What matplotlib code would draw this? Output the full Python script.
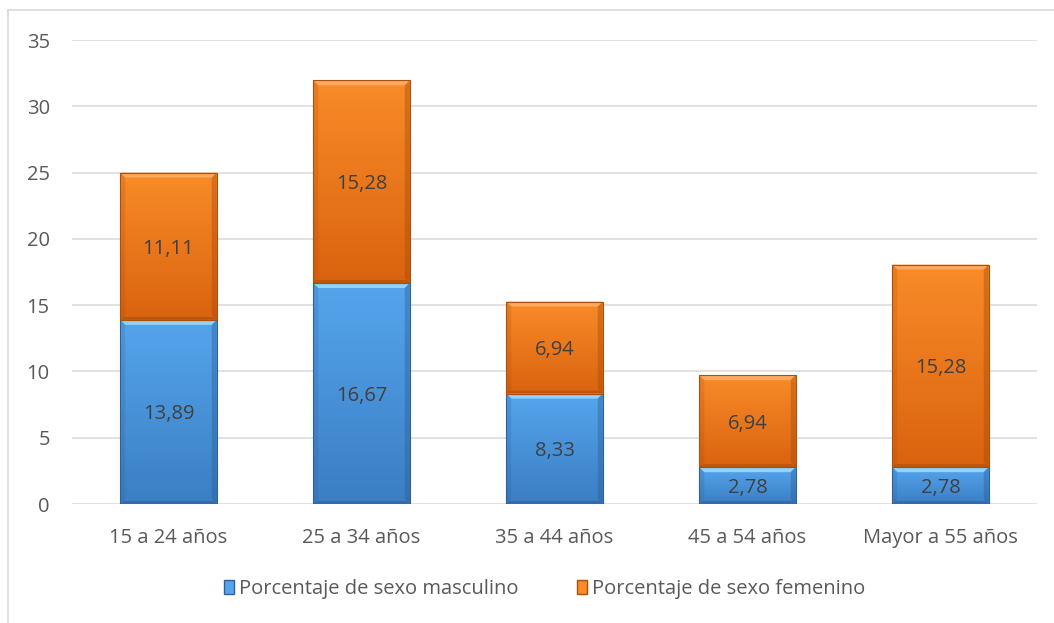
import numpy as np
import matplotlib
matplotlib.use("Agg")
import matplotlib.pyplot as plt
from matplotlib.patches import Rectangle, Polygon, Patch
from matplotlib.lines import Line2D
from matplotlib.colors import LinearSegmentedColormap

plt.rcParams['font.family'] = ['Open Sans', 'DejaVu Sans']

categories = ["15 a 24 años", "25 a 34 años", "35 a 44 años", "45 a 54 años", "Mayor a 55 años"]
masculino = [13.89, 16.67, 8.33, 2.78, 2.78]
femenino = [11.11, 15.28, 6.94, 6.94, 15.28]
series_names = ["Porcentaje de sexo masculino", "Porcentaje de sexo femenino"]
y_ticks = [0, 5, 10, 15, 20, 25, 30, 35]

FS = 14.5

styles = {
    "blue": dict(top="#55A5EC", bottom="#3B7EC4", light="#92D3FA", dark="#2C5C92", edge="#2F6196"),
    "orange": dict(top="#F98B28", bottom="#DA630F", light="#FCA85E", dark="#A34A0A", edge="#A9500F"),
}

fig = plt.figure(figsize=(10.54, 6.23), dpi=100)
ax = fig.add_axes([72 / 1054, 1 - 504 / 623, 965 / 1054, 464 / 623])
ax.set_xlim(-0.5, len(categories) - 0.5)
ax.set_ylim(0, 35)

for s in ax.spines.values():
    s.set_visible(False)
ax.set_yticks(y_ticks)
ax.set_yticklabels([str(t) for t in y_ticks])
ax.yaxis.grid(True, color="#D9D9D9", linewidth=1.1)
ax.set_axisbelow(True)
ax.tick_params(axis="both", length=0, labelsize=FS, colors="#595959")
ax.tick_params(axis="y", pad=16)
ax.tick_params(axis="x", pad=17)
ax.set_xticks(range(len(categories)))
ax.set_xticklabels(categories)

# pixel -> data conversions for the bevel size
fig.canvas.draw()
px_x = (ax.get_xlim()[1] - ax.get_xlim()[0]) / ax.bbox.width
px_y = (ax.get_ylim()[1] - ax.get_ylim()[0]) / ax.bbox.height
bev = 5
bx, by = bev * px_x, bev * px_y

width = 0.5


def bevel_bar(x, y0, h, st):
    x0 = x - width / 2
    x1 = x + width / 2
    y1 = y0 + h
    rect = Rectangle((x0, y0), width, h, facecolor="none", edgecolor="none", zorder=3)
    ax.add_patch(rect)
    cmap = LinearSegmentedColormap.from_list("g", [st["bottom"], st["top"]])
    grad = np.linspace(0, 1, 64).reshape(-1, 1)
    im = ax.imshow(grad, cmap=cmap, origin="lower", aspect="auto",
                   extent=(x0, x1, y0, y1), zorder=3, interpolation="bilinear")
    im.set_clip_path(rect)
    # top highlight
    ax.add_patch(Polygon([(x0, y1), (x1, y1), (x1 - bx, y1 - by), (x0 + bx, y1 - by)],
                         closed=True, facecolor=st["light"], edgecolor="none", zorder=4))
    # side shading
    ax.add_patch(Polygon([(x1, y1), (x1, y0), (x1 - bx, y0 + by), (x1 - bx, y1 - by)],
                         closed=True, facecolor=st["dark"], alpha=0.4, edgecolor="none", zorder=4))
    ax.add_patch(Polygon([(x0, y1), (x0, y0), (x0 + bx, y0 + by), (x0 + bx, y1 - by)],
                         closed=True, facecolor=st["dark"], alpha=0.2, edgecolor="none", zorder=4))
    # bottom shading
    ax.add_patch(Polygon([(x0, y0), (x1, y0), (x1 - bx * 0.6, y0 + by * 0.6), (x0 + bx * 0.6, y0 + by * 0.6)],
                         closed=True, facecolor=st["dark"], alpha=0.5, edgecolor="none", zorder=4))
    ax.add_patch(Rectangle((x0, y0), width, h, facecolor="none", edgecolor=st["edge"],
                           linewidth=0.8, zorder=5))


for i, (m, f) in enumerate(zip(masculino, femenino)):
    bevel_bar(i, 0, m, styles["blue"])
    bevel_bar(i, m, f, styles["orange"])
    ax.text(i, m / 2, f"{m:.2f}".replace(".", ","), ha="center", va="center_baseline",
            fontsize=FS, color="#404040", zorder=6)
    ax.text(i, m + f / 2, f"{f:.2f}".replace(".", ","), ha="center", va="center_baseline",
            fontsize=FS, color="#404040", zorder=6)

# legend
handles = [Patch(facecolor=styles["blue"]["top"], edgecolor=styles["blue"]["edge"]),
           Patch(facecolor=styles["orange"]["top"], edgecolor=styles["orange"]["edge"])]
leg = fig.legend(handles, series_names, loc="center", bbox_to_anchor=(0.517, 1 - 589 / 623),
                 ncol=2, frameon=False, fontsize=FS, handlelength=0.5, handleheight=0.65,
                 handletextpad=0.25, columnspacing=2.9, labelcolor="#595959")

# chart area border (top and left edges)
fig.add_artist(Line2D([8 / 1054, 8 / 1054], [0, 1 - 10 / 623], transform=fig.transFigure,
                      color="#D9D9D9", linewidth=1.2))
fig.add_artist(Line2D([8 / 1054, 1], [1 - 10 / 623, 1 - 10 / 623], transform=fig.transFigure,
                      color="#D9D9D9", linewidth=1.2))

fig.savefig("out.png", dpi=100)
